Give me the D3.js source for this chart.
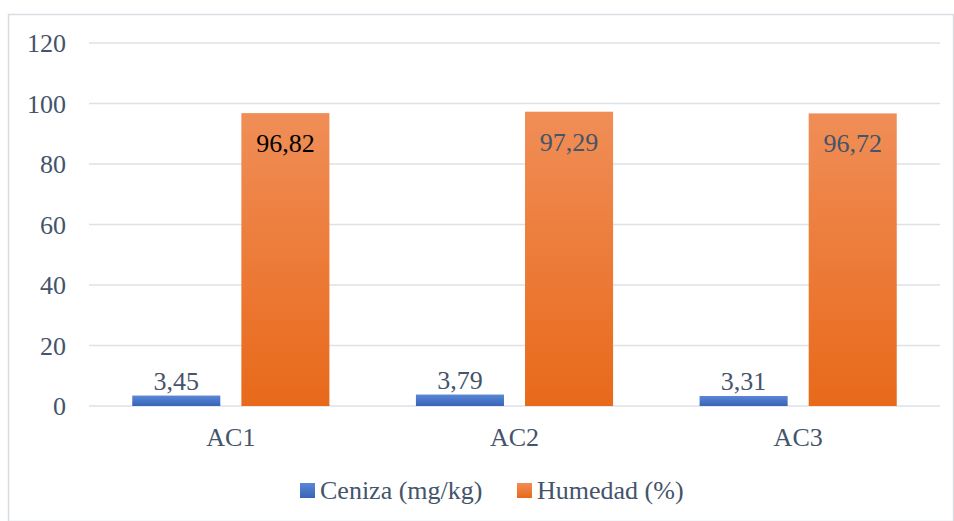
<!DOCTYPE html>
<html>
<head>
<meta charset="utf-8">
<script src="https://cdn.jsdelivr.net/npm/d3@7"></script>
<style>
  html, body { margin: 0; padding: 0; background: #fff; }
  svg { display: block; }
  svg text { font-family: "Liberation Serif", "Times New Roman", "DejaVu Serif", serif; font-size: 26px; }
</style>
</head>
<body>
<svg id="chart" width="954" height="521"></svg>
<script>
// Sample categories and measured values
const categories = ["AC1", "AC2", "AC3"];
const seriesNames = ["Ceniza (mg/kg)", "Humedad (%)"];
const ceniza = [3.45, 3.79, 3.31];
const humedad = [96.82, 97.29, 96.72];
const yTicks = [0, 20, 40, 60, 80, 100, 120];

const svg = d3.select("#chart");
const W = 954, H = 521;
const textColor = "#44546A";
const fmt = v => d3.format(".2f")(v).replace(".", ",");

// Outer frame
svg.append("rect")
  .attr("x", 8.5).attr("y", 14.5)
  .attr("width", W - 9).attr("height", H - 14)
  .attr("fill", "none").attr("stroke", "#D9DDE3").attr("stroke-width", 1.5);

// Gradients for the two series
const defs = svg.append("defs");
function grad(id, top, bottom) {
  const g = defs.append("linearGradient").attr("id", id)
    .attr("x1", 0).attr("y1", 0).attr("x2", 0).attr("y2", 1);
  g.append("stop").attr("offset", "0%").attr("stop-color", top);
  g.append("stop").attr("offset", "100%").attr("stop-color", bottom);
}
grad("gBlue", "#5A87D6", "#3863B8");
grad("gOrange", "#F08E57", "#E8691A");

const plot = { left: 89, right: 940, top: 43, bottom: 406 };

const y = d3.scaleLinear().domain([0, 120]).range([plot.bottom, plot.top]);
const x0 = d3.scaleBand().domain(categories)
  .range([plot.left, plot.right]).paddingInner(0.305).paddingOuter(0.1525);
const x1 = d3.scaleBand().domain(seriesNames)
  .range([0, x0.bandwidth()]).paddingInner(0.193);

// Gridlines
svg.append("g").selectAll("line").data(yTicks).join("line")
  .attr("x1", plot.left).attr("x2", plot.right)
  .attr("y1", d => y(d)).attr("y2", d => y(d))
  .attr("stroke", "#DDE1E6").attr("stroke-width", 1.5);

// Y axis labels
const yAxis = d3.axisLeft(y).tickValues(yTicks).tickSize(0).tickPadding(0);
const gy = svg.append("g").attr("transform", `translate(66,0)`).call(yAxis);
gy.select(".domain").remove();
gy.attr("font-family", null).attr("font-size", null);
gy.selectAll("text").attr("fill", textColor).attr("dy", "0.33em");

// X axis labels
const xAxis = d3.axisBottom(x0).tickSize(0).tickPadding(0);
const gx = svg.append("g").attr("transform", `translate(0,${plot.bottom})`).call(xAxis);
gx.select(".domain").remove();
gx.attr("font-family", null).attr("font-size", null);
gx.selectAll("text").attr("fill", textColor).attr("dy", 0).attr("y", 40);

// Bars
const data = categories.map((c, i) => ({ cat: c, vals: [ceniza[i], humedad[i]] }));
const fills = ["url(#gBlue)", "url(#gOrange)"];

const groups = svg.append("g").selectAll("g").data(data).join("g")
  .attr("transform", d => `translate(${x0(d.cat)},0)`);

groups.selectAll("rect").data(d => d.vals.map((v, j) => ({ v, j }))).join("rect")
  .attr("x", d => x1(seriesNames[d.j]))
  .attr("width", x1.bandwidth())
  .attr("y", d => y(d.v))
  .attr("height", d => y(0) - y(d.v))
  .attr("fill", d => fills[d.j]);

// Value labels: above the small bars, inside the top of the tall bars
groups.selectAll("text.val").data((d, i) => d.vals.map((v, j) => ({ v, j, i }))).join("text")
  .attr("class", "val")
  .attr("x", d => x1(seriesNames[d.j]) + x1.bandwidth() / 2)
  .attr("y", d => d.j === 0 ? y(d.v) - 6 : y(d.v) + 39)
  .attr("text-anchor", "middle")
  .attr("fill", d => (d.j === 1 && d.i === 0) ? "#000000" : textColor)
  .text(d => fmt(d.v));

// Legend
const legendItems = [
  { name: seriesNames[0], fill: "url(#gBlue)", x: 300 },
  { name: seriesNames[1], fill: "url(#gOrange)", x: 517 }
];
const lg = svg.append("g").selectAll("g").data(legendItems).join("g")
  .attr("transform", d => `translate(${d.x},483)`);
lg.append("rect").attr("width", 15).attr("height", 15).attr("fill", d => d.fill);
lg.append("text").attr("x", 20).attr("y", 16)
  .attr("fill", textColor)
  .text(d => d.name);
</script>
</body>
</html>
